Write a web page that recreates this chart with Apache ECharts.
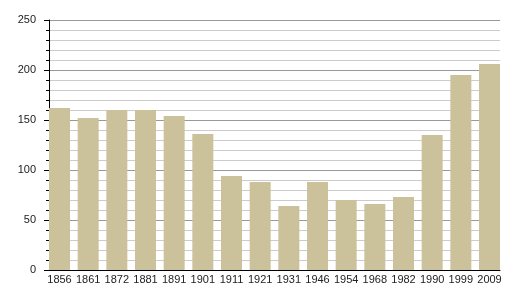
<!DOCTYPE html>
<html>
<head>
<meta charset="utf-8">
<script src="https://cdn.jsdelivr.net/npm/echarts@6/dist/echarts.min.js"></script>
<style>html,body{margin:0;padding:0;background:#fff;}#c{width:508px;height:300px;}</style>
</head>
<body>
<div id="c"></div>
<script>
const categories = ['1856','1861','1872','1881','1891','1901','1911','1921','1931','1946','1954','1968','1982','1990','1999','2009'];
const values = [162,152,160,160,154,136,94,88,64,88,70,66,73,135,195,206];
const yMin = 0, yMax = 250, yInterval = 50;

const chart = echarts.init(document.getElementById('c'), null, {renderer:'canvas'});
const font = {fontFamily:'Liberation Sans, Arial, sans-serif', fontSize:11, color:'#222'};
chart.setOption({
  animation:false,
  backgroundColor:'#fff',
  grid:[
    {left:49, right:8, top:20, bottom:30},
    {left:45.17, right:4.17, top:20, bottom:30}
  ],
  xAxis:[
    {type:'category', gridIndex:0, data:categories,
     axisLine:{show:true, lineStyle:{color:'#000', width:1}},
     axisTick:{show:false}, axisLabel:{show:false}, splitLine:{show:false}, z:5},
    {type:'category', gridIndex:1, data:categories,
     axisLine:{show:false}, axisTick:{show:false},
     axisLabel:Object.assign({margin:4, interval:0}, font)}
  ],
  yAxis:[
    {type:'value', gridIndex:0, min:yMin, max:yMax, interval:yInterval,
     axisLine:{show:true, lineStyle:{color:'#000', width:1}},
     axisTick:{show:true, length:5, lineStyle:{color:'#000'}},
     minorTick:{show:true, splitNumber:5, length:3, lineStyle:{color:'#000'}},
     splitLine:{show:true, lineStyle:{color:'#999', width:1}},
     minorSplitLine:{show:true, lineStyle:{color:'#ccc', width:1}},
     axisLabel:Object.assign({margin:13}, font)},
    {type:'value', gridIndex:1, min:yMin, max:yMax, interval:yInterval, show:false,
     splitLine:{show:false}}
  ],
  series:[{
    type:'bar', xAxisIndex:1, yAxisIndex:1, data:values, barWidth:21,
    itemStyle:{color:'#cbc29c'}
  }]
});
</script>
</body>
</html>
